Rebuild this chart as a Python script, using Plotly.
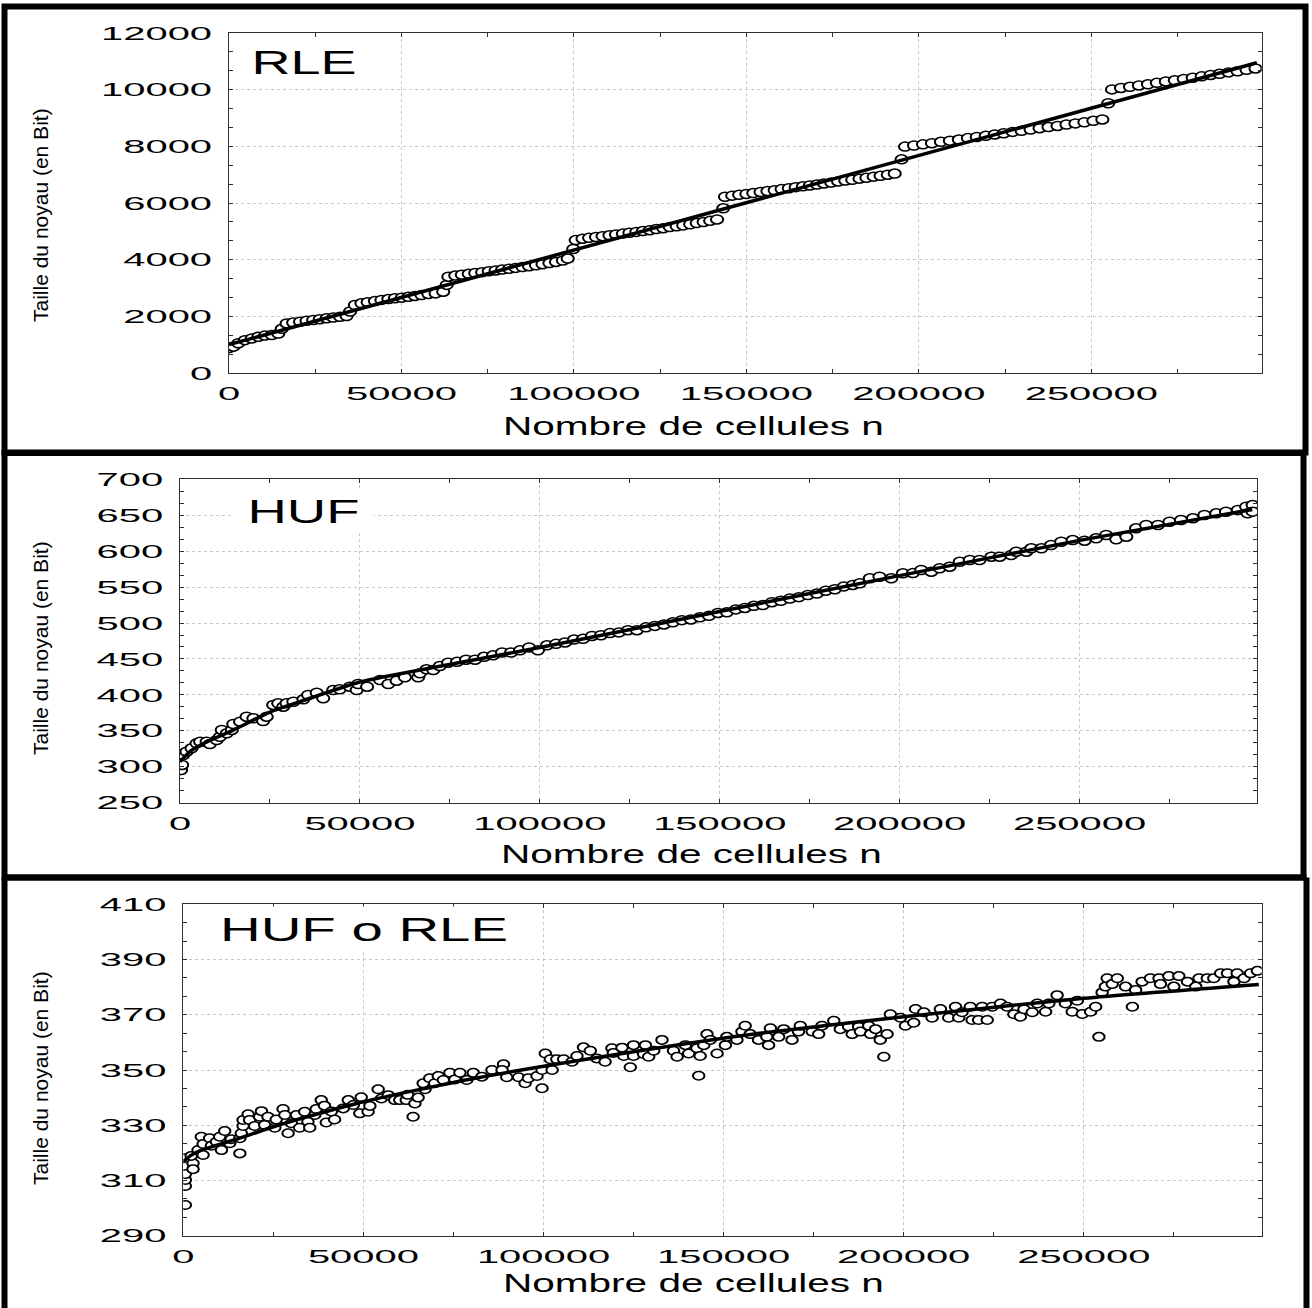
import plotly.graph_objects as go

# ---------------- data ----------------
# Panel 1 : RLE
rle_n = [0, 1300, 2700, 4600, 6600, 8500, 10400, 12400, 14300, 15300,
         16700, 18600, 20600, 22500, 24400, 26300, 28300, 30200, 32200, 34100, 35100,
         36500, 38400, 40200, 42300, 44200, 46200, 48100, 50100, 52000, 53900, 55800, 57800, 59900, 62100, 63100,
         63600, 65600, 67500, 69500, 71400, 73400, 75300, 77300, 79200, 81200, 83100, 85100, 87000, 89000,
         90900, 92900, 94800, 96800, 98200, 99800,
         100500, 102500, 104400, 106400, 108300, 110300, 112200, 114200, 116100, 118100, 120000, 122000,
         123900, 125900, 127800, 129800, 131700, 133700, 135600, 137600, 139500, 141500, 143300,
         143800, 145900, 147900, 150000, 152000, 154100, 156100, 158200, 160200, 162300, 164300, 166400,
         168400, 170500, 172500, 174600, 176600, 178700, 180700, 182800, 184800, 186900, 188900, 191000, 193000, 195000,
         196000, 198600, 201200, 203800, 206400, 209000, 211600, 214200, 216800, 219400, 222000, 224600,
         227200, 229800, 232400, 235000, 237600, 240200, 242800, 245400, 248000, 250600, 253200, 254900,
         256000, 258600, 261200, 263800, 266400, 269000, 271600, 274200, 276800, 279400, 282000, 284600,
         287200, 289800, 292400, 295000, 297600]
rle_bits = [880, 930, 1050, 1160, 1220, 1280, 1320, 1340, 1390, 1560,
            1750, 1780, 1810, 1845, 1870, 1900, 1930, 1955, 1985, 2010, 2170,
            2400, 2460, 2500, 2540, 2580, 2610, 2640, 2660, 2690, 2720, 2750, 2790, 2810, 2870, 3110,
            3400, 3440, 3470, 3500, 3530, 3560, 3590, 3620, 3650, 3680, 3710, 3740, 3770, 3800,
            3840, 3880, 3920, 3970, 4040, 4376,
            4690, 4740, 4770, 4800, 4830, 4860, 4890, 4920, 4950, 4980, 5010, 5040,
            5080, 5110, 5150, 5180, 5210, 5250, 5290, 5330, 5370, 5420, 5812,
            6220, 6260, 6290, 6320, 6350, 6390, 6420, 6450, 6490, 6520, 6560, 6590,
            6620, 6650, 6690, 6720, 6760, 6790, 6820, 6860, 6890, 6930, 6960, 7000, 7040, 7540,
            7990, 8030, 8070, 8110, 8160, 8200, 8240, 8290, 8330, 8370, 8420, 8460,
            8510, 8550, 8590, 8640, 8680, 8720, 8770, 8810, 8850, 8900, 8950, 9520,
            10010, 10060, 10100, 10150, 10190, 10240, 10290, 10330, 10380, 10420, 10470, 10520,
            10560, 10610, 10650, 10700, 10750]
rle_fit_n = [0, 298000]
rle_fit_bits = [1000, 10950]

# Panel 2 : HUF
huf_n = [300, 600, 900, 1800, 3200, 4600, 5600, 7400, 8300, 10200, 11100, 11600, 13000, 14400, 14800,
         16700, 18500, 20400, 23100, 24100, 25900, 27300, 28700, 29600, 31500, 34300, 35600, 38000,
         39800, 42600, 44400, 47200, 49100, 49500, 52000, 55600, 57900, 60200, 62500, 66200, 66700,
         68500, 70400, 72200, 74500,
         77000, 79500, 82000, 84500, 87000, 89500, 92000, 94500, 97000, 99500, 102000, 104500, 107000,
         109500, 112000, 114500, 117000, 119500, 122000, 124500, 127000, 129500, 132000, 134500, 137000,
         139500, 142000, 144500, 147000, 149500, 152000, 154500, 157000, 159500, 162000, 164500, 167000,
         169500, 172000, 174500, 177000, 179500, 182000, 184500, 187000,
         188900, 191700, 194400, 197700, 200900, 203700, 206000, 208800, 211100, 213900, 216700, 219500,
         222200, 225500, 227800, 231000, 232400, 235200, 236600, 239400, 242100, 244900, 248100, 251400,
         254600, 257400, 260200, 263000, 265700, 268500, 271800, 275000, 278200, 281500, 284700, 288000,
         290700, 294000, 296300, 296700, 298100, 298100]
huf_bits = [295.5, 302.5, 316.4, 321, 325.7, 332.6, 334.9, 334.9, 331.7, 337.2, 341.8, 351.2, 346.6, 351.2, 359.5,
            362.7, 369.7, 367.4, 363.7, 369.7, 386, 388.3, 383.6, 388.3, 390.5, 393.9, 399.9, 403,
            395.3, 406.8, 407.8, 411.4, 406.8, 415.2, 411.4, 420.7, 415.2, 419.8, 424.5, 424.5, 430,
            435.6, 434.6, 440.2, 444.8,
            446, 449, 449, 453, 455, 459, 459, 462, 466, 462, 469, 471, 473,
            477, 478, 482, 483, 486, 487, 490, 490, 494, 496, 498, 501,
            504, 505, 508, 510, 514, 515, 519, 521, 524, 525, 529, 531,
            534, 536, 539, 541, 545, 547, 551, 553,
            555.3, 562.2, 564.5, 562.2, 569.2, 569.5, 573.8, 571.4, 576.1, 578.4, 585.3, 587.7,
            587.7, 592.3, 592.3, 594.7, 599.3, 599.3, 604, 604, 608.6, 613.2, 615.5, 614.6,
            617.9, 622.5, 616.5, 620.1, 631.8, 636.4, 636.4, 641, 643.4, 645.7, 650.3, 652.7,
            654.9, 657.3, 661.9, 652.7, 664.2, 655]
huf_fit_n = [0, 3000, 8000, 14800, 25000, 33300, 50000, 74100, 100000, 150000, 200000, 250000, 298000]
huf_fit_bits = [307, 322, 336, 351, 376, 390.5, 418, 441.6, 466, 516, 566, 615, 658]

# Panel 3 : HUF o RLE
hr_n = [560, 560, 560, 560, 400, 2700, 2700, 2200, 4100, 5500, 5000, 5500, 7300, 7800, 9200, 10100,
        10600, 11500, 12900, 13300, 15700, 15700, 16100, 16600, 16600, 18000, 18400, 19800, 21200,
        21700, 22600, 23500, 25400, 25800, 27700, 28200, 29100, 30000, 31400, 32300, 33700, 34600,
        35100, 36500, 36900, 38300, 39200, 39700, 42000, 41100, 44400, 45800, 47200, 49000, 49400,
        51300, 51800, 54100, 55000, 56900, 58700, 60100, 61900, 62300, 63800, 64300, 65200, 67100,
        66600, 68400, 69800, 70800, 72200, 74000, 75400, 76800, 78700, 80500,
        82900, 85700, 88900, 88500, 89800, 93100, 94900, 95800, 98200, 99600, 99600, 100500, 101900,
        102400, 103700, 105600, 107900, 109300, 111100, 113000, 114800, 117100, 119000, 119400, 121800,
        122300, 124100, 125000, 125000, 128300, 127800, 129200, 130600, 132900, 136100, 137100, 139400,
        140300, 142600, 143100, 143500, 144500, 145400, 146300, 148200, 150500, 150900, 153700, 155100,
        156000, 157400, 159700, 162000, 162500, 163000,
        165300, 166700, 169000, 170800, 171300, 174600, 176400, 177300, 180600, 182400, 184700, 185700,
        187500, 188000, 190300, 190800, 192200, 193500, 194500, 195400, 196300, 199100, 200500, 202800,
        203300, 205600, 207900, 210200, 212500, 214400, 215300, 216200, 218500, 219000, 220800, 221800,
        223200, 224600, 226900, 228700, 230600, 232400, 233400, 235700, 237100, 239400, 240300, 242600,
        244900, 246800, 248200, 249600, 251900, 253300, 254200, 255100, 256000, 256500, 257900, 259300,
        261600, 263500, 264400, 266200, 268500, 270900, 271300, 273600, 275000, 276400, 278800, 281100,
        282000, 284300, 286100, 288000, 289900, 291700, 292600, 294500, 296300, 298200]
hr_bits = [301.1, 308.0, 310.2, 312.3, 318.0, 316.2, 314.1, 318.9, 321.0, 319.2, 325.8, 323.2, 325.3, 322.6, 324.0, 325.8,
           321.0, 327.9, 323.5, 324.9, 319.8, 325.3, 327.1, 329.7, 331.9, 334.0, 331.9, 329.7, 333.1,
           335.1, 330.1, 333.1, 329.1, 332.1, 335.9, 333.7, 327.1, 330.7, 333.7, 329.1, 334.9, 331.3,
           329.1, 333.7, 335.9, 339.1, 337.1, 331.0, 332.1, 335.0, 336.1, 339.1, 337.3, 334.3, 340.1,
           334.9, 337.0, 343.0, 339.7, 340.9, 339.1, 339.1, 339.1, 341.0, 333.1, 337.9, 340.0, 343.0,
           345.2, 347.0, 345.2, 347.8, 346.4, 349.0, 346.6, 349.0, 346.4, 349.0,
           347.6, 350.0, 352.1, 350.0, 347.4, 347.4, 345.2, 347.0, 347.8, 343.4, 350.0, 356.0, 353.9,
           350.0, 353.9, 353.9, 353.0, 355.1, 358.2, 357.0, 354.2, 353.0, 357.9, 356.2, 358.1,
           355.1, 351.0, 359.0, 355.1, 359.0, 355.8, 354.8, 357.0, 360.9, 357.0, 354.8, 359.0,
           356.0, 357.9, 347.9, 355.1, 359.0, 363.0, 360.9, 356.0, 359.0, 362.0, 360.9, 363.9,
           366.0, 363.0, 360.9, 362.0, 359.0, 365.1,
           362.0, 364.8, 360.9, 363.9, 366.0, 363.9, 363.0, 366.0, 367.8, 364.8, 365.7, 363.0,
           365.7, 363.9, 366.0, 363.0, 364.8, 360.9, 354.8, 363.0, 370.2, 368.9, 366.0, 367.1,
           372.1, 370.9, 368.9, 372.1, 368.9, 372.9, 368.9, 370.9, 372.9, 368.1, 368.1, 372.9,
           368.1, 372.9, 374.1, 372.9, 370.2, 369.3, 372.0, 370.9, 374.1, 371.1, 374.1, 377.1,
           374.1, 371.1, 375.1, 370.3, 371.1, 372.9, 362.0, 378.1, 380.2, 383.2, 381.1, 383.2,
           380.2, 372.9, 379.0, 382.0, 383.2, 383.2, 381.1, 384.0, 380.2, 384.0, 382.0, 380.2,
           383.2, 383.2, 383.2, 385.0, 385.0, 382.0, 385.0, 383.2, 385.0, 385.9]
hr_fit_n = [0, 2000, 5000, 15000, 26300, 50000, 81000, 125000, 160000, 200000, 250000, 298600]
hr_fit_bits = [316.8, 319, 321, 325, 330, 338.5, 347, 356.6, 363.3, 369.3, 376, 381]

panel_labels = ["RLE", "HUF", "HUF o RLE"]
x_title = "Nombre de cellules n"
y_title = "Taille du noyau (en Bit)"

# ---------------- layout helpers ----------------
W, H = 1312, 1308
FONT = "Liberation Sans, Arial, sans-serif"


def px(x):
    return x / W


def py(y):
    return 1 - y / H


fig = go.Figure()

panels = [
    (rle_n, rle_bits, rle_fit_n, rle_fit_bits, "x", "y", 9),
    (huf_n, huf_bits, huf_fit_n, huf_fit_bits, "x2", "y2", 9),
    (hr_n, hr_bits, hr_fit_n, hr_fit_bits, "x3", "y3", 8.5),
]
for n, b, fn, fb, xa, ya, ms in panels:
    fig.add_trace(go.Scatter(x=n, y=b, mode="markers", xaxis=xa, yaxis=ya, showlegend=False,
                             marker=dict(symbol="circle", size=ms, color="white",
                                         line=dict(color="black", width=1.5))))
    fig.add_trace(go.Scatter(x=fn, y=fb, mode="lines", xaxis=xa, yaxis=ya, showlegend=False,
                             line=dict(color="black", width=3.5, shape="spline", smoothing=0.6)))

common = dict(showline=True, linecolor="#303030", linewidth=1.2, mirror="ticks",
              ticks="inside", ticklen=4, tickwidth=1, tickcolor="#303030",
              showgrid=True, gridcolor="#c8c8c8", griddash="dot", gridwidth=1,
              zeroline=False, automargin=False,
              tickfont=dict(family=FONT, size=19, color="black"),
              tickformat="d")


def xaxis(dom, anchor):
    return dict(common, domain=dom, anchor=anchor, range=[0, 299400], tick0=0, dtick=50000,
                ticklabelstandoff=3,
                minor=dict(dtick=25000, tick0=0, ticks="inside", ticklen=4,
                           tickcolor="#303030", showgrid=False))


def yaxis(dom, anchor, rng, dt):
    return dict(common, domain=dom, anchor=anchor, range=rng, tick0=rng[0], dtick=dt,
                ticklabelstandoff=12,
                minor=dict(dtick=dt / 3, tick0=rng[0], ticks="inside", ticklen=4,
                           tickcolor="#303030", showgrid=False))


fig.update_layout(
    width=W, height=H, margin=dict(l=0, r=0, t=0, b=0, autoexpand=False),
    paper_bgcolor="white", plot_bgcolor="white", showlegend=False,
    font=dict(family=FONT, color="black"),
    xaxis=xaxis([px(229), px(1261.7)], "y"),
    yaxis=yaxis([py(373), py(33)], "x", [0, 12000], 2000),
    xaxis2=xaxis([px(180), px(1257.3)], "y2"),
    yaxis2=yaxis([py(802.7), py(479.3)], "x2", [250, 700], 50),
    xaxis3=xaxis([px(183.3), px(1261.7)], "y3"),
    yaxis3=yaxis([py(1235.7), py(904.3)], "x3", [290, 410], 20),
)

annotations = []
# panel labels (white boxes hide grid lines behind them)
for lbl, cx, cy, bw, bh in [(panel_labels[0], 304, 62, 124, 36),
                            (panel_labels[1], 303, 511, 137, 38),
                            (panel_labels[2], 364, 929, 300, 42)]:
    annotations.append(dict(text=lbl, x=px(cx), y=py(cy), xref="paper", yref="paper",
                            xanchor="center", yanchor="middle", showarrow=False,
                            width=bw, height=bh, bgcolor="white", align="center",
                            font=dict(family=FONT, size=33, color="black")))
# x titles
for cx, cy in [(693.5, 426), (691.5, 854), (693.5, 1283)]:
    annotations.append(dict(text=x_title, x=px(cx), y=py(cy), xref="paper", yref="paper",
                            xanchor="center", yanchor="middle", showarrow=False,
                            font=dict(family=FONT, size=25, color="black")))
# y titles
for cy in [215, 648, 1078]:
    annotations.append(dict(text=y_title, x=px(40), y=py(cy), xref="paper", yref="paper",
                            xanchor="center", yanchor="middle", showarrow=False, textangle=-90,
                            font=dict(family=FONT, size=21, color="black")))
fig.update_layout(annotations=annotations)

# thick black frames around each panel (kept inside the page)
frame_line = dict(color="black", width=6)
for x0, y0, x1, y1 in [(4.5, 6.5, 1305.5, 452.5), (4.5, 453, 1303.5, 877.5)]:
    fig.add_shape(type="rect", xref="paper", yref="paper", x0=px(x0), x1=px(x1), y0=py(y0), y1=py(y1),
                  line=frame_line, fillcolor="rgba(0,0,0,0)", layer="above")
# third frame runs off the bottom of the page: draw only top, left and right sides
for x0, y0, x1, y1 in [(4.5, 877.5, 1306.5, 877.5), (4.5, 877.5, 4.5, 1308), (1306.5, 877.5, 1306.5, 1308)]:
    fig.add_shape(type="line", xref="paper", yref="paper", x0=px(x0), x1=px(x1), y0=py(y0), y1=py(y1),
                  line=frame_line, layer="above")

post = """
(function(){
  var widths = {'RLE':105, 'HUF':112, 'HUF o RLE':288, 'Nombre de cellules n':381};
  document.querySelectorAll('text.annotation-text').forEach(function(t){
    var w = widths[t.textContent];
    if (w) { t.setAttribute('textLength', w); t.setAttribute('lengthAdjust', 'spacingAndGlyphs'); }
  });
  var sel = 'g.xtick text, g.x2tick text, g.x3tick text, g.ytick text, g.y2tick text, g.y3tick text';
  document.querySelectorAll(sel).forEach(function(t){
    if (t.getAttribute('data-st')) return;
    var w = t.getComputedTextLength();
    t.setAttribute('textLength', (w * 2.1).toFixed(1));
    t.setAttribute('lengthAdjust', 'spacingAndGlyphs');
    t.setAttribute('data-st', '1');
  });
  document.querySelectorAll('g.points path.point').forEach(function(p){
    if (p.getAttribute('data-st')) return;
    p.setAttribute('transform', p.getAttribute('transform') + ' scale(1.35,1)');
    p.setAttribute('data-st', '1');
  });
})();
"""

fig.write_html("out.html", post_script=post)
